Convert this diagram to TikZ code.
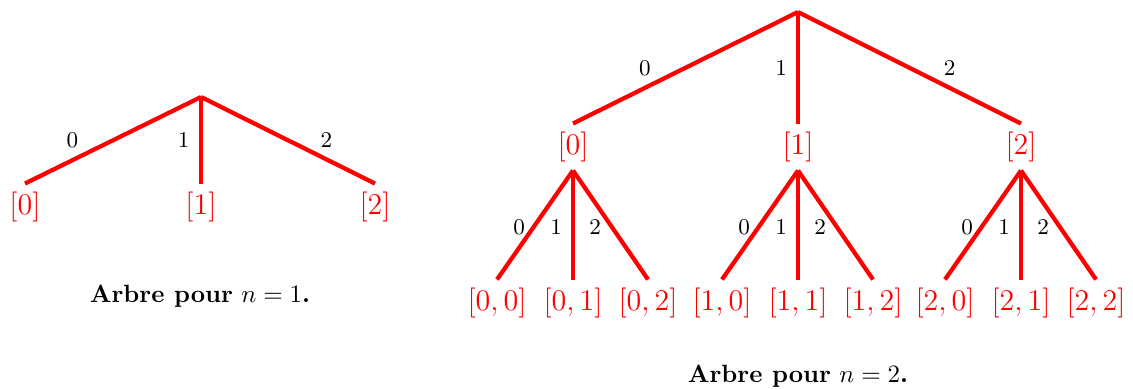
\documentclass[tikz,border=0pt]{standalone}
\usepackage{amsmath}
\usepackage{tikz}
\usetikzlibrary{positioning}

\tikzset{
    branch/.style={red, line width=1.7pt},
    leaf/.style={red, font=\large, inner sep=3.2pt},
    digit/.style={black, font=\small, inner sep=1pt},
    caption/.style={font=\normalsize},
}

\begin{document}
\begin{tikzpicture}[x=0.4pt, y=-0.4pt]
    \useasboundingbox (0,0) rectangle (1133,389);

    % tree for n = 1
    \coordinate (A) at (201,97);
    \node[leaf] (A0) at (25,207)  {$[0]$};
    \node[leaf] (A1) at (201,207) {$[1]$};
    \node[leaf] (A2) at (375,207) {$[2]$};
    \draw[branch] (A) -- node[digit, pos=0.73, above=3pt] (a0) {0} (A0.north);
    \draw[branch] (A) -- node[digit, pos=0.5, left=2.8pt] (a1) {1} (A1.north);
    \draw[branch] (A) -- node[digit, pos=0.72, above=3pt] (a2) {2} (A2.north);
    \node[caption] (capA) at (200,296) {\textbf{Arbre pour} $n=1$\textbf{.}};

    % tree for n = 2
    \coordinate (B) at (798,12);
    \node[leaf] (B0) at (573,147)  {$[0]$};
    \node[leaf] (B1) at (798,147)  {$[1]$};
    \node[leaf] (B2) at (1021,147) {$[2]$};
    \draw[branch] (B) -- node[digit, pos=0.68, above=3pt] (b0) {0} (B0.north);
    \draw[branch] (B) -- node[digit, pos=0.5, left=2.6pt] (b1) {1} (B1.north);
    \draw[branch] (B) -- node[digit, pos=0.68, above=3pt] (b2) {2} (B2.north);

    % second level
    \foreach \i/\x in {0/573, 1/798, 2/1021} {
        \node[leaf] (B\i0) at (\x-76,303) {$[\i,0]$};
        \node[leaf] (B\i1) at (\x,303)    {$[\i,1]$};
        \node[leaf] (B\i2) at (\x+75,303) {$[\i,2]$};
        \draw[branch] (B\i.south) -- node[digit, pos=0.52, left=1.6pt] {0} (B\i0.north);
        \draw[branch] (B\i.south) -- node[digit, pos=0.52, left=2.6pt] {1} (B\i1.north);
        \draw[branch] (B\i.south) -- node[digit, pos=0.52, left=2.6pt] {2} (B\i2.north);
    }
    \node[caption] (capB) at (798,376) {\textbf{Arbre pour} $n=2$\textbf{.}};
\end{tikzpicture}
\end{document}
